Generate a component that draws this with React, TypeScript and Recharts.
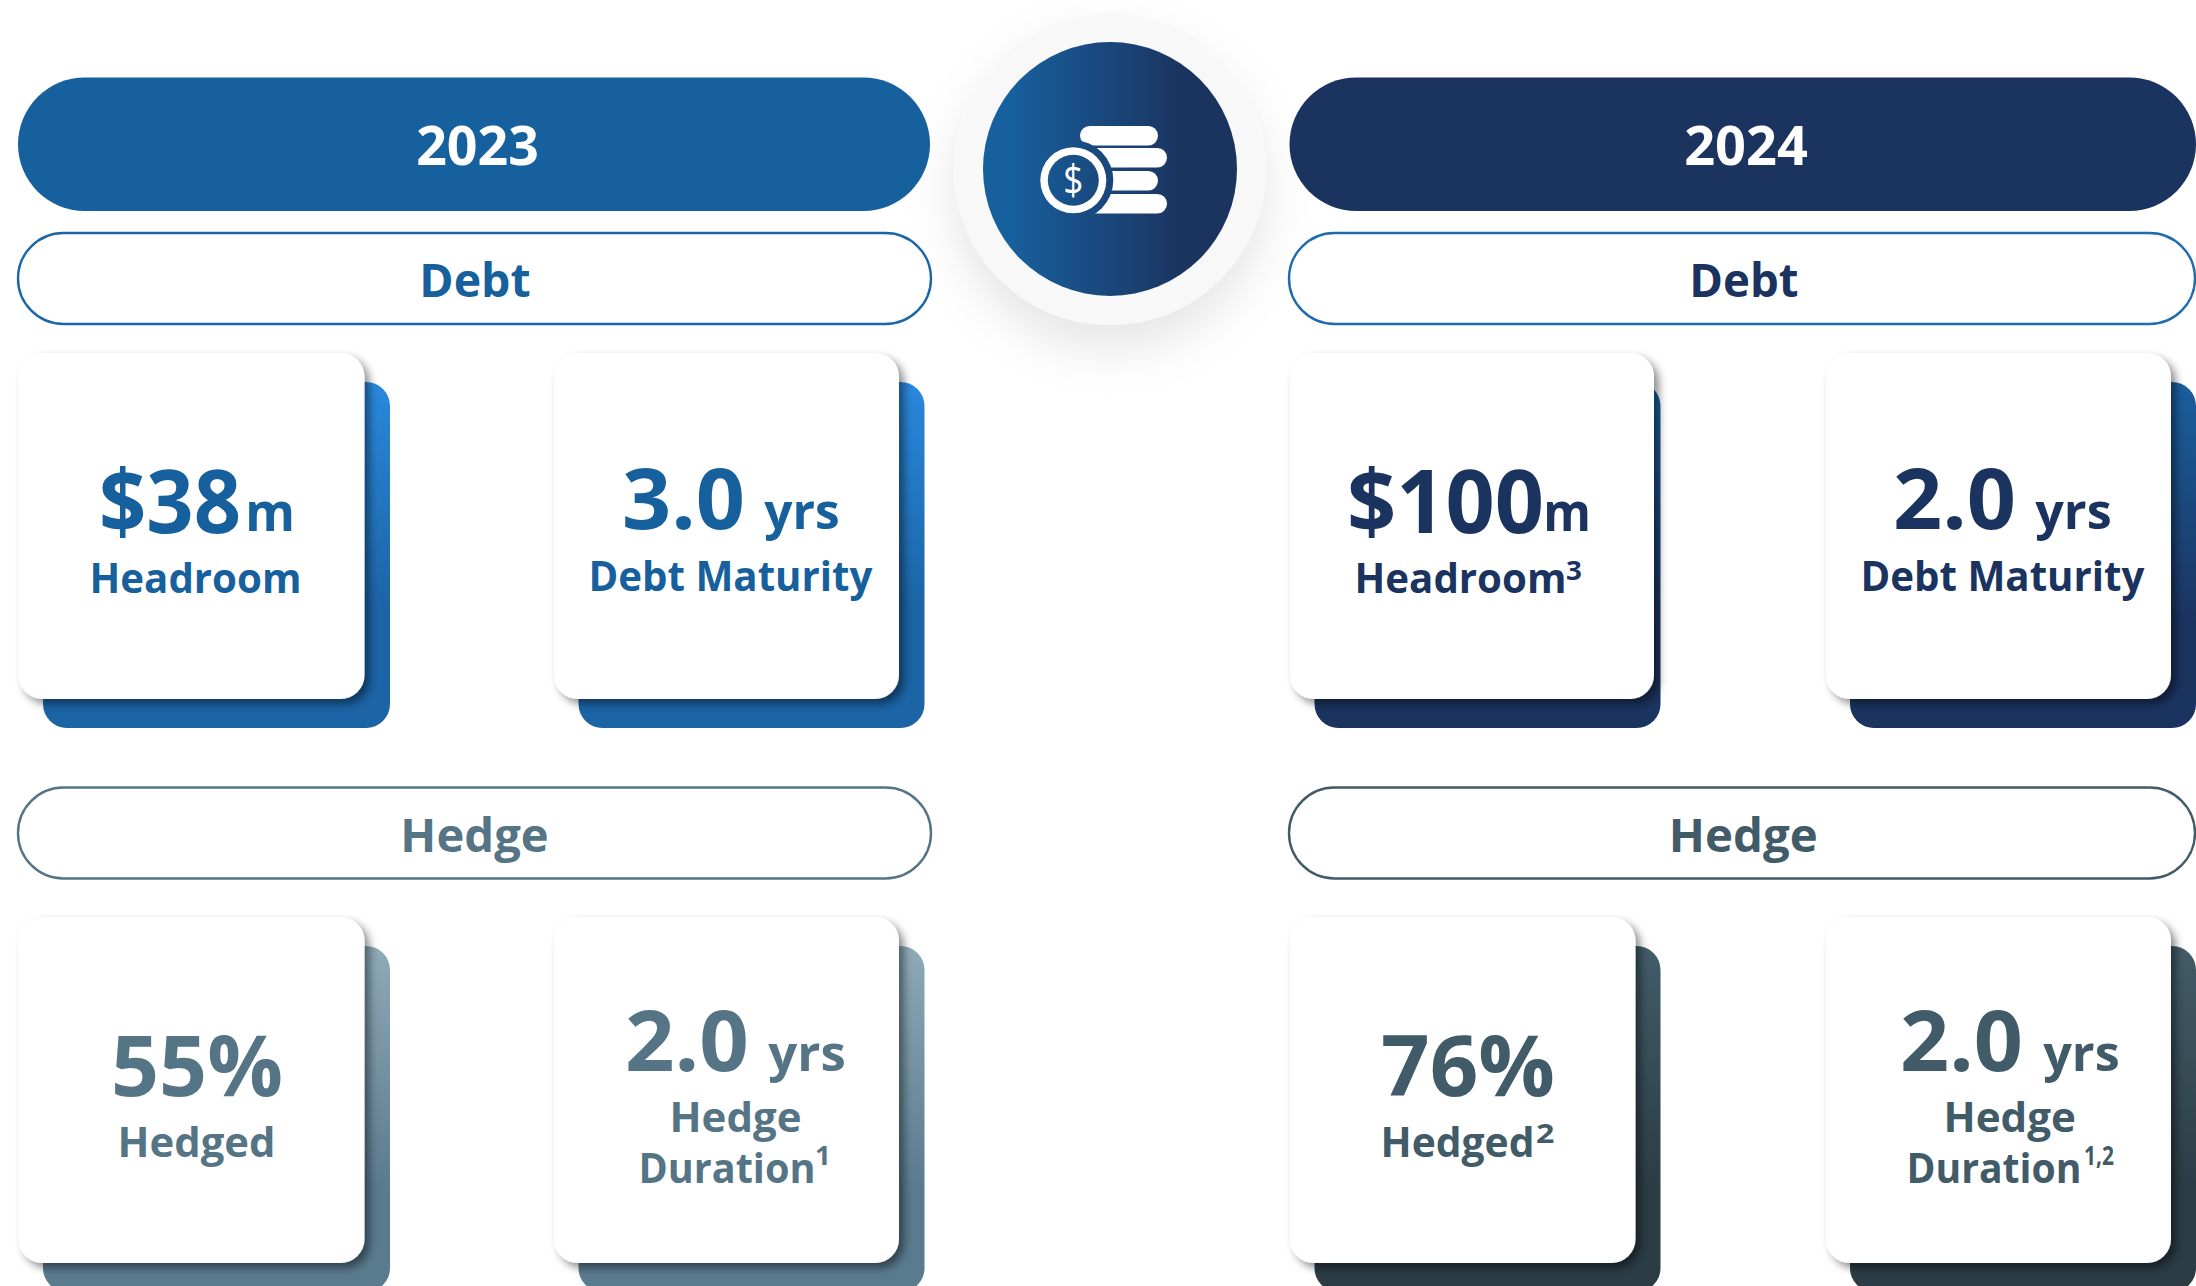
import React from 'react';
import { ScatterChart, Scatter, XAxis, YAxis } from 'recharts';

// ---------- values ----------
const years = ['2023', '2024'];
const sections = ['Debt', 'Hedge'];
const headroomMillions = [38, 100];
const debtMaturityYears = [3.0, 2.0];
const hedgedPercent = [55, 76];
const hedgeDurationYears = [2.0, 2.0];
const headroomNotes = ['', '3'];
const hedgedNotes = ['', '2'];
const durationNotes = ['1', '1,2'];

// ---------- styling ----------
const W = 2196;
const H = 1286;
const FONT = '"Open Sans", "Noto Sans", sans-serif';
const yearFill = ['#17609E', '#1B335F'];
const sectionText = [['#17609E', '#1B335F'], ['#557485', '#415B68']];
const sectionStroke = [['#1B66A8', '#1F6BAF'], ['#557485', '#415B68']];
const cardText = sectionText;
const backGrad = [['gBlue', 'gNavy'], ['gSlate', 'gDark']];

type T = [string, number, number, number, number]; // text, x0, x1, baseline, size
const tx = (s: string | number, x0: number, x1: number, y: number, size: number): T => [String(s), x0, x1, y, size];

// geometry: pills and cards
const yearBars = [
  { x: 18, y: 77.5, w: 912, h: 133.5, tx: [418, 537] },
  { x: 1289.5, y: 77.5, w: 906.5, h: 133.5, tx: [1686, 1806] },
];
const outlineSlots = [
  [{ x: 18, y: 233, w: 913, h: 91, tx: [421, 529], base: 297 }, { x: 1289, y: 233, w: 906, h: 91, tx: [1691, 1797], base: 297 }],
  [{ x: 18, y: 787.5, w: 913, h: 91, tx: [402, 547], base: 852 }, { x: 1289, y: 787.5, w: 906, h: 91, tx: [1670.5, 1816], base: 852 }],
];

const cards = [
  { x: 18.5, w: 346, y: 353, bx: 43, bw: 347, sec: 0, yr: 0, texts: [
      tx('$' + headroomMillions[0], 102, 238, 533, 88), tx('m', 247, 293, 531, 53), tx('Headroom', 91, 300, 593, 42)] },
  { x: 554, w: 345, y: 353, bx: 578.5, bw: 346, sec: 0, yr: 0, texts: [
      tx(debtMaturityYears[0].toFixed(1), 625, 742, 529, 85), tx('yrs', 766, 838, 529, 50), tx('Debt Maturity', 590, 871, 591, 42)] },
  { x: 1290, w: 364, y: 353, bx: 1314.5, bw: 346, sec: 0, yr: 1, texts: [
      tx('$' + headroomMillions[1], 1350, 1541, 533, 88), tx('m', 1545, 1589, 531, 53), tx('Headroom', 1356, 1565, 593, 42), tx(headroomNotes[1], 1567, 1581, 580, 27)] },
  { x: 1826, w: 345, y: 353, bx: 1850, bw: 346, sec: 0, yr: 1, texts: [
      tx(debtMaturityYears[1].toFixed(1), 1896, 2013, 529, 85), tx('yrs', 2037, 2110, 529, 50), tx('Debt Maturity', 1862, 2143, 591, 42)] },
  { x: 18.5, w: 346, y: 917, bx: 43, bw: 347, sec: 1, yr: 0, texts: [
      tx(hedgedPercent[0] + '%', 114, 280, 1096, 84), tx('Hedged', 119, 274, 1157, 42)] },
  { x: 554, w: 345, y: 917, bx: 578.5, bw: 346, sec: 1, yr: 0, texts: [
      tx(hedgeDurationYears[0].toFixed(1), 628, 746, 1071, 84), tx('yrs', 770, 844, 1071, 50), tx('Hedge', 671, 800, 1132, 42), tx('Duration', 640, 814, 1183, 42), tx(durationNotes[0], 816, 830, 1165, 27)] },
  { x: 1290, w: 345.5, y: 917, bx: 1314.5, bw: 346, sec: 1, yr: 1, texts: [
      tx(hedgedPercent[1] + '%', 1384, 1552, 1096, 84), tx('Hedged', 1382, 1533, 1157, 42), tx(hedgedNotes[1], 1537, 1553.5, 1143, 27)] },
  { x: 1826, w: 345, y: 917, bx: 1850, bw: 346, sec: 1, yr: 1, texts: [
      tx(hedgeDurationYears[1].toFixed(1), 1903, 2020, 1071, 84), tx('yrs', 2045, 2118, 1071, 50), tx('Hedge', 1945, 2074.5, 1132, 42), tx('Duration', 1908, 2080, 1183, 42), tx(durationNotes[1], 2085, 2113, 1165, 27)] },
];

const CARD_H = 346;
const BACK_DY = 29;

// the measured x-range is the ink; glyph side bearings add a little to the advance
const Label = ({ t, fill }: { t: T; fill: string }) => {
  const bearing = t[4] * 0.035;
  return (
    <text
      x={t[1] - bearing}
      y={t[3]}
      fontSize={t[4]}
      fontFamily={FONT}
      fontWeight={700}
      fill={fill}
      textLength={t[2] - t[1] + 2 * bearing}
      lengthAdjust="spacingAndGlyphs"
    >
      {t[0]}
    </text>
  );
};

const yearData = yearBars.map((b, i) => ({ ...b, px: b.x, py: b.y, i }));
const outlineData = sections.flatMap((s, si) =>
  years.map((_, yi) => ({ ...outlineSlots[si][yi], px: outlineSlots[si][yi].x, py: outlineSlots[si][yi].y, si, yi, label: s }))
);
const cardData = cards.map((c) => ({ ...c, px: c.x, py: c.y }));
const heroData = [{ px: 1110, py: 169 }];

const YearPill = (p: any) => {
  const d = p.payload;
  return (
    <g>
      <rect x={p.cx} y={p.cy} width={d.w} height={d.h} rx={d.h / 2} fill={yearFill[d.i]} />
      <Label t={tx(years[d.i], d.tx[0], d.tx[1], 165, 53)} fill="#FFFFFF" />
    </g>
  );
};

const OutlinePill = (p: any) => {
  const d = p.payload;
  return (
    <g>
      <rect x={p.cx} y={p.cy} width={d.w} height={d.h} rx={d.h / 2} fill="#FFFFFF" stroke={sectionStroke[d.si][d.yi]} strokeWidth={2.4} />
      <Label t={tx(d.label, d.tx[0], d.tx[1], d.base, 47)} fill={sectionText[d.si][d.yi]} />
    </g>
  );
};

const Card = (p: any) => {
  const d = p.payload;
  return (
    <g>
      <rect x={d.bx} y={p.cy + BACK_DY} width={d.bw} height={CARD_H} rx={24} fill={`url(#${backGrad[d.sec][d.yr]})`} />
      <rect x={p.cx} y={p.cy} width={d.w} height={CARD_H} rx={24} fill="#FFFFFF" filter="url(#cardShadow)" />
      {d.texts.map((t: T, i: number) => (
        <Label key={i} t={t} fill={cardText[d.sec][d.yr]} />
      ))}
    </g>
  );
};

const Hero = (p: any) => {
  const cx = p.cx;
  const cy = p.cy;
  const coinX = cx - 36.7;
  const coinY = cy + 11.3;
  return (
    <g>
      <circle cx={cx} cy={cy} r={156} fill="#F8F8F8" filter="url(#heroShadow)" />
      <circle cx={cx} cy={cy} r={127} fill="url(#heroGrad)" />
      <rect x={cx - 30} y={cy - 43} width={78} height={19.5} rx={9.7} fill="#FFFFFF" />
      <rect x={cx - 25} y={cy - 21} width={82} height={19.5} rx={9.7} fill="#FFFFFF" />
      <rect x={cx - 25} y={cy + 2} width={73} height={19.5} rx={9.7} fill="#FFFFFF" />
      <rect x={cx - 25} y={cy + 25} width={82} height={19.5} rx={9.7} fill="#FFFFFF" />
      <circle cx={coinX} cy={coinY} r={40} fill="url(#heroGrad)" />
      <circle cx={coinX} cy={coinY} r={33} fill="#FFFFFF" />
      <circle cx={coinX} cy={coinY} r={25.5} fill="url(#heroGrad)" />
      <text x={coinX - 10} y={coinY + 15} textLength={20} lengthAdjust="spacingAndGlyphs" fontSize={42} fontWeight={400} fontFamily={FONT} fill="#FFFFFF">$</text>
    </g>
  );
};

export default function App() {
  return (
    <div style={{ position: 'fixed', left: 0, top: 0, width: W, height: H, background: '#FFFFFF', overflow: 'hidden' }}>
      <ScatterChart width={W} height={H} margin={{ top: 0, right: 0, bottom: 0, left: 0 }}>
        <defs>
          <linearGradient id="heroGrad" gradientUnits="userSpaceOnUse" x1={983} y1={0} x2={1237} y2={0}>
            <stop offset="0.1" stopColor="#17609E" />
            <stop offset="0.8" stopColor="#1B335F" />
          </linearGradient>
          <linearGradient id="gBlue" x1="0" y1="0" x2="0" y2="1">
            <stop offset="0" stopColor="#2A88DC" />
            <stop offset="0.65" stopColor="#1B64A6" />
          </linearGradient>
          <linearGradient id="gNavy" x1="0" y1="0" x2="0" y2="1">
            <stop offset="0" stopColor="#1A5F9E" />
            <stop offset="0.7" stopColor="#1B335F" />
          </linearGradient>
          <linearGradient id="gSlate" x1="0" y1="0" x2="0" y2="1">
            <stop offset="0" stopColor="#8FAAB8" />
            <stop offset="0.7" stopColor="#5A7A8E" />
          </linearGradient>
          <linearGradient id="gDark" x1="0" y1="0" x2="0" y2="1">
            <stop offset="0" stopColor="#425C69" />
            <stop offset="0.7" stopColor="#2B3C45" />
          </linearGradient>
          <filter id="cardShadow" x="-10%" y="-10%" width="125%" height="125%">
            <feDropShadow dx={5} dy={5} stdDeviation={4} floodColor="#000000" floodOpacity={0.45} />
          </filter>
          <filter id="heroShadow" x="-30%" y="-30%" width="160%" height="170%">
            <feDropShadow dx={0} dy={24} stdDeviation={24} floodColor="#000000" floodOpacity={0.1} />
          </filter>
        </defs>
        <XAxis type="number" dataKey="px" domain={[0, W]} hide />
        <YAxis type="number" dataKey="py" domain={[0, H]} reversed hide />
        <Scatter data={heroData} shape={Hero} isAnimationActive={false} />
        <Scatter data={yearData} shape={YearPill} isAnimationActive={false} />
        <Scatter data={outlineData} shape={OutlinePill} isAnimationActive={false} />
        <Scatter data={cardData} shape={Card} isAnimationActive={false} />
      </ScatterChart>
    </div>
  );
}
